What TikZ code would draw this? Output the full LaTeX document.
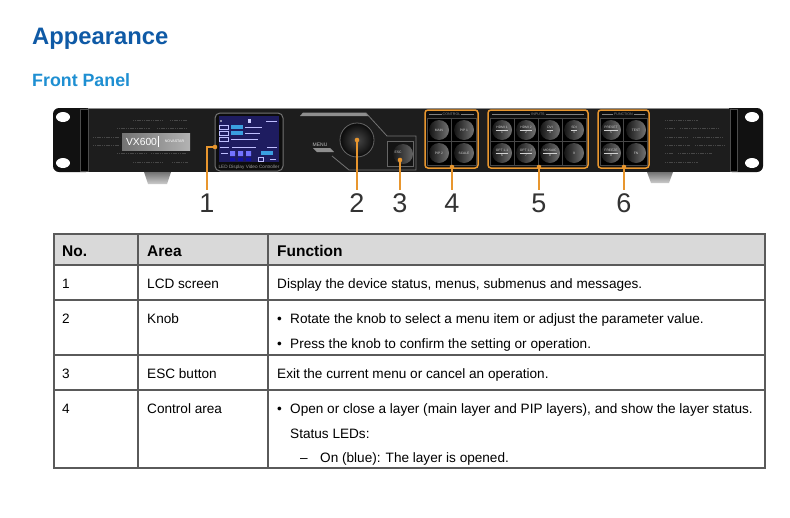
\documentclass[tikz,border=0pt]{standalone}
\usepackage{fontspec}
\setmainfont{Liberation Sans}
\usepackage{tikz}

\definecolor{headblue}{HTML}{0F5AA6}
\definecolor{subblue}{HTML}{1E8FD2}
\definecolor{callorange}{HTML}{E8962E}
\definecolor{rowgray}{HTML}{D9D9D9}
\definecolor{rulegray}{HTML}{5A5A5A}
\definecolor{panelblack}{HTML}{1D1D1D}
\definecolor{earblack}{HTML}{111111}
\definecolor{bezelgray}{HTML}{8E8E8E}
\definecolor{lcdblue}{HTML}{1E1C60}
\definecolor{lcdcyan}{HTML}{3A9FE0}

\tikzset{
  headtext/.style={anchor=base west, inner sep=0pt, font=\fontsize{23.8}{28}\selectfont\bfseries, text=headblue},
  subtext/.style={anchor=base west, inner sep=0pt, font=\fontsize{17.8}{21}\selectfont\bfseries, text=subblue},
  calloutnum/.style={anchor=base, inner sep=2pt, outer sep=1pt, font=\fontsize{27}{30}\selectfont, text=black!80},
  callout/.style={callorange, line width=1.3pt},
  thead/.style={anchor=base west, inner sep=0pt, font=\fontsize{15.5}{18}\selectfont\bfseries},
  tcell/.style={anchor=base west, inner sep=0pt, font=\fontsize{13.6}{16}\selectfont},
  tline/.style={rulegray, line width=1.2pt},
  vent/.style={black!72, line width=0.9pt, dash pattern=on 1.1pt off 0.7pt},
  keybtn/.style={circle, minimum size=20pt, inner sep=0pt, left color=black!92, right color=black!55, align=center, text=black!18, font=\fontsize{3.3}{3.9}\selectfont},
  grpframe/.style={callorange, line width=1.5pt, rounded corners=3pt, fill=black!94},
  grpcells/.style={draw=black!72, line width=0.5pt, fill=black},
  grptitle/.style={inner sep=0.8pt, text=black!45, font=\fontsize{3.6}{4}\selectfont},
  grprule/.style={black!50, line width=1pt},
  lcdtext/.style={white!75!blue, line width=0.9pt},
}

\begin{document}
\begin{tikzpicture}[x=1pt,y=-1pt]
    \useasboundingbox (0,0) rectangle (790,517);
    \fill[white] (0,0) rectangle (790,517);
    % headings
    \node[headtext] (appear) at (32,44.5) {Appearance};
    \node[subtext] (front) at (32,86) {Front Panel};
    % device: ears, body, handles
    \fill[earblack, rounded corners=6pt] (53,108) rectangle (92,172);
    \fill[earblack, rounded corners=6pt] (726,108) rectangle (763,172);
    \fill[panelblack] (86,108) rectangle (732,172);
    \draw[black!45, line width=0.8pt] (88,108.5) -- (729,108.5);
    \draw[black!70, line width=0.5pt, fill=black] (80,109) rectangle (88,171);
    \draw[black!70, line width=0.5pt, fill=black] (730,109) rectangle (737,171);
    \fill[white] (63,117) ellipse (7 and 5);
    \fill[white] (63,163) ellipse (7 and 5);
    \fill[white] (752,117) ellipse (7 and 5);
    \fill[white] (752,163) ellipse (7 and 5);
    % feet
    \shade[top color=black!55, bottom color=black!20] (144,172) -- (171,172) -- (167,184) -- (148,184) -- cycle;
    \shade[top color=black!55, bottom color=black!20] (647,172) -- (673,172) -- (669,183) -- (651,183) -- cycle;
    % vents
    \draw[vent] (133,120) -- (163,120) (170,120) -- (187,120);
    \draw[vent] (117,128) -- (150,128) (157,128) -- (187,128);
    \draw[vent] (93,137) -- (120,137);
    \draw[vent] (93,145) -- (120,145);
    \draw[vent] (117,153) -- (147,153) (151,153) -- (187,153);
    \draw[vent] (133,162) -- (163,162) (172,162) -- (188,162);
    \draw[vent] (665,120) -- (698,120);
    \draw[vent] (665,128) -- (675,128) (680,128) -- (718,128);
    \draw[vent] (665,137) -- (688,137) (693,137) -- (723,137);
    \draw[vent] (665,145) -- (690,145) (695,145) -- (725,145);
    \draw[vent] (665,153) -- (673,153) (678,153) -- (712,153);
    \draw[vent] (665,162) -- (698,162);
    % badge
    \shade[left color=black!55, right color=black!30] (122,133) rectangle (190,150);
    \node[inner sep=0pt, text=white!92, font=\fontsize{10.3}{12}\selectfont] (vxname) at (141.5,141.5) {VX600};
    \draw[white!80, line width=0.5pt] (158,136) -- (158,147);
    \node[inner sep=0pt, text=white!85, font=\fontsize{3.6}{4}\selectfont] (vxbrand) at (174.5,141.5) {NOVASTAR};
    % LCD
    \draw[black!55, line width=1pt, fill=black!95, rounded corners=5pt] (215,113) rectangle (283,171);
    \fill[lcdblue] (219,116) rectangle (279,162);
    \fill[white] (221,121) circle (0.9);
    \fill[white!80!blue] (247.5,119) rectangle (250.5,122.5);
    \draw[lcdtext] (266,121) -- (277,121);
    \draw[lcdtext, line width=0.5pt] (219.5,125) rectangle (228,129);
    \fill[lcdcyan] (231,125) rectangle (243,129);
    \draw[lcdtext] (245,127) -- (262,127);
    \draw[lcdtext, line width=0.5pt] (219.5,131) rectangle (228,135);
    \fill[lcdcyan] (231,131) rectangle (243,135);
    \draw[lcdtext] (245,133) -- (260,133);
    \draw[lcdtext, line width=0.5pt] (219.5,137) rectangle (228,141);
    \draw[lcdtext] (231,139) -- (258,139);
    \draw[lcdtext] (220,147) -- (229,147) (232,147) -- (256,147) (267,147) -- (277,147);
    \draw[lcdtext] (221,153.5) -- (228,153.5);
    \fill[blue!55!white] (230,151) rectangle (235,156) (238,151) rectangle (243,156) (246,151) rectangle (251,156);
    \fill[lcdcyan] (261,150.5) rectangle (273,155);
    \fill[blue!40!lcdblue] (230,157.5) rectangle (235,161) (238,157.5) rectangle (243,161) (246,157.5) rectangle (251,161);
    \draw[lcdtext, line width=0.5pt] (258,157.5) rectangle (263,161);
    \draw[lcdtext, line width=0.6pt] (270,159) -- (276,159);
    \node[inner sep=0pt, text=black!40, font=\fontsize{4.7}{5}\selectfont] (lcdname) at (249,167) {LED Display Video Controller};
    % knob and esc
    \fill[bezelgray] (300,116) -- (303,112.5) -- (366,112.5) -- (369,116) -- cycle;
    \draw[black!55, line width=0.8pt] (366,113) -- (387,136) -- (416,136) -- (416,170) -- (349,170) -- (332,156);
    \fill[bezelgray] (313,148) -- (330,148) -- (334,152) -- (317,152) -- cycle;
    \node[inner sep=0pt, text=black!25, font=\fontsize{5}{6}\selectfont] (menulbl) at (320,145) {MENU};
    \node[circle, minimum size=34pt, inner sep=0pt, draw=black!60, line width=0.8pt, inner color=black!72, outer color=black!96] (knob) at (357,140) {};
    \draw[black!60, line width=0.6pt, fill=black!92] (387,141) rectangle (413,166);
    \node[circle, minimum size=20pt, inner sep=0pt, left color=black!90, right color=black!60] (escbtn) at (403,154) {};
    \node[inner sep=0pt, text=black!20, font=\fontsize{3.4}{4}\selectfont] (esclbl) at (398,152) {ESC};
    % control group
    \draw[grpframe] (425,110) rectangle (478,168);
    \draw[grpcells] (427,118) rectangle (476,165);
    \draw[black!72, line width=0.5pt] (451.5,118) -- (451.5,165) (427,141.5) -- (476,141.5);
    \node[grptitle] (tctrl) at (451.5,114) {CONTROL};
    \draw[grprule] (429,114) -- (tctrl.west) (tctrl.east) -- (474,114);
    \node[keybtn] (kmain) at (439,130) {MAIN};
    \node[keybtn] (kpipa) at (464,130) {PIP 1};
    \node[keybtn] (kpipb) at (439,153) {PIP 2};
    \node[keybtn] (kscale) at (464,153) {SCALE};
    % inputs group
    \draw[grpframe] (488,110) rectangle (588,168);
    \draw[grpcells] (490,118) rectangle (586,165);
    \draw[black!72, line width=0.5pt] (514,118) -- (514,165) (538,118) -- (538,165) (562,118) -- (562,165) (490,141.5) -- (586,141.5);
    \node[grptitle] (tinput) at (538,114) {INPUTS};
    \draw[grprule] (492,114) -- (tinput.west) (tinput.east) -- (584,114);
    \node[keybtn] (khdmia) at (502,130) {\underline{HDMI 1}\\1};
    \node[keybtn] (khdmib) at (526,130) {\underline{HDMI 2}\\2};
    \node[keybtn] (kdvi) at (550,130) {\underline{DVI}\\3};
    \node[keybtn] (ksdi) at (574,130) {\underline{SDI}\\4};
    \node[keybtn] (kopta) at (502,153) {\underline{OPT 1-1}\\6};
    \node[keybtn] (koptb) at (526,153) {\underline{OPT 1-2}\\7};
    \node[keybtn] (kmosaic) at (550,153) {\underline{MOSAIC}\\8};
    \node[keybtn] (knine) at (574,153) {9};
    % function group
    \draw[grpframe] (598,110) rectangle (649,168);
    \draw[grpcells] (600,118) rectangle (647,165);
    \draw[black!72, line width=0.5pt] (623.5,118) -- (623.5,165) (600,141.5) -- (647,141.5);
    \node[grptitle] (tfunc) at (623.5,114) {FUNCTION};
    \draw[grprule] (602,114) -- (tfunc.west) (tfunc.east) -- (645,114);
    \node[keybtn] (kpreset) at (611,130) {\underline{PRESET}\\5};
    \node[keybtn] (ktest) at (636,130) {TEST};
    \node[keybtn] (kfreeze) at (611,153) {\underline{FREEZE}\\0};
    \node[keybtn] (kfn) at (636,153) {FN};
    % callouts
    \coordinate (d1) at (215,147);
    \coordinate (d2) at (357,140);
    \coordinate (d3) at (400,160);
    \coordinate (d4) at (452,167);
    \coordinate (d5) at (539,167);
    \coordinate (d6) at (624,167);
    \node[calloutnum] (n1) at (207,212) {1};
    \node[calloutnum] (n2) at (357,212) {2};
    \node[calloutnum] (n3) at (400,212) {3};
    \node[calloutnum] (n4) at (452,212) {4};
    \node[calloutnum] (n5) at (539,212) {5};
    \node[calloutnum] (n6) at (624,212) {6};
    \draw[callout] (d1) -| (n1.north);
    \draw[callout] (d2) -- (n2.north);
    \draw[callout] (d3) -- (n3.north);
    \draw[callout] (d4) -- (n4.north);
    \draw[callout] (d5) -- (n5.north);
    \draw[callout] (d6) -- (n6.north);
    \fill[callorange] (d1) circle (2.3) (d2) circle (2.3) (d3) circle (2.3);
    \fill[callorange] (d4) circle (2.3) (d5) circle (2.3) (d6) circle (2.3);
    % table
    \fill[rowgray] (54,234) rectangle (765,265);
    \draw[tline] (54,234) rectangle (765,468);
    \draw[tline] (54,265) -- (765,265) (54,300) -- (765,300) (54,355) -- (765,355) (54,390) -- (765,390);
    \draw[tline] (138,234) -- (138,468) (268,234) -- (268,468);
    \node[thead] (hno) at (62,256) {No.};
    \node[thead] (harea) at (147,256) {Area};
    \node[thead] (hfunc) at (277,256) {Function};
    \node[tcell] (ano) at (62,288) {1};
    \node[tcell] (aarea) at (147,288) {LCD screen};
    \node[tcell] (afunc) at (277,288) {Display the device status, menus, submenus and messages.};
    \node[tcell] (bno) at (62,323) {2};
    \node[tcell] (barea) at (147,323) {Knob};
    \node[tcell] (bdota) at (277,323) {•};
    \node[tcell] (bfunca) at (290,323) {Rotate the knob to select a menu item or adjust the parameter value.};
    \node[tcell] (bdotb) at (277,348) {•};
    \node[tcell] (bfuncb) at (290,348) {Press the knob to confirm the setting or operation.};
    \node[tcell] (cno) at (62,378) {3};
    \node[tcell] (carea) at (147,378) {ESC button};
    \node[tcell] (cfunc) at (277,378) {Exit the current menu or cancel an operation.};
    \node[tcell] (dno) at (62,413) {4};
    \node[tcell] (darea) at (147,413) {Control area};
    \node[tcell] (ddot) at (277,413) {•};
    \node[tcell] (dfunca) at (290,413) {Open or close a layer (main layer and PIP layers), and show the layer status.};
    \node[tcell] (dfuncb) at (290,438) {Status LEDs:};
    \node[tcell] (ddash) at (300,462) {–};
    \node[tcell] (dfuncc) at (320,462) {On (blue): The layer is opened.};
\end{tikzpicture}
\end{document}
